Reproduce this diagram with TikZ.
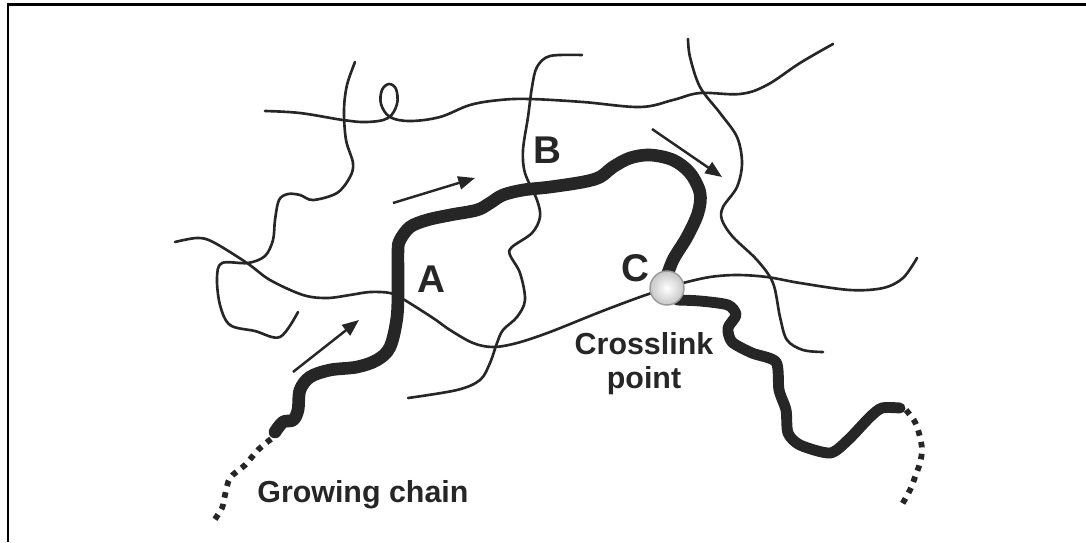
\documentclass[tikz,border=0pt]{standalone}
\usepackage{fontspec}
\setmainfont{Liberation Sans}
\usetikzlibrary{arrows.meta}

\begin{document}
\begin{tikzpicture}[
      x=0.02cm, y=-0.02cm,
      strand/.style={line width=1.5pt, line cap=round, draw=black!85},
      chain/.style={line width=7.2pt, line cap=round, line join=round, draw=black!85},
      growth/.style={line width=3.3pt, dash pattern=on 3.2pt off 3.6pt, draw=black!85},
      arrow/.style={line width=1.4pt, draw=black!85,
                    -{Triangle[length=9.5pt, width=7.5pt]}},
      xlink/.style={circle, minimum size=0.68cm, inner sep=0pt, draw=black!40,
                    line width=0.8pt, inner color=white, outer color=black!22},
      site/.style={font=\fontsize{22}{24}\selectfont\bfseries, text=black!85, inner sep=0pt},
      lbl/.style={font=\fontsize{17.3}{19.5}\selectfont\bfseries, text=black!85,
                  inner sep=0pt, align=center},
  ]
    \useasboundingbox (0,0) rectangle (1086,542);

    %% --- Frame ---
    \draw[line width=1.5pt] (8,542) -- (8,4.5) -- (1086,4.5);

    %% --- Network strands ---
    \draw[strand] plot[smooth, tension=0.6] coordinates {
      (265,111) (300,113) (343,120) (367,122) (388,118) (397,104) (396,89)
      (389,84) (382,90) (381,104) (390,117) (410,121) (440,117) (470,105)
      (500,100) (530,99) (583,102) (640,107) (673,100) (700,93) (740,94)
      (767,85) (800,63) (833,44)};
    \draw[strand] plot[smooth, tension=0.55] coordinates {
      (355,62) (347,85) (344,110) (346,140) (353,163) (350,177) (337,193)
      (313,200) (300,195) (288,194) (279,200) (275,220) (273,240) (265,256)
      (248,263) (222,263) (217,278) (220,305) (230,325) (255,331) (280,337)
      (298,312)};
    \draw[strand] plot[smooth, tension=0.55] coordinates {
      (175,242) (197,238) (213,242) (247,263) (270,280) (303,295) (327,298)
      (350,295) (370,292) (390,293) (403,299) (433,318) (450,330) (473,343)
      (493,347) (517,343) (550,332) (600,312) (640,297) (667,288) (683,283)
      (710,277) (737,275) (767,277) (800,283) (850,290) (883,288) (903,278)
      (917,258)};
    \draw[strand] plot[smooth, tension=0.55] coordinates {
      (582,55) (550,56) (537,67) (532,87) (528,117) (523,150) (525,173)
      (537,200) (540,217) (532,233) (512,247) (510,255) (520,273) (525,300)
      (517,317) (503,330) (497,343) (490,363) (480,380) (457,390) (408,398)};
    \draw[strand] plot[smooth, tension=0.55] coordinates {
      (688,39) (690,57) (700,87) (720,113) (737,137) (742,163) (737,187)
      (723,207) (722,220) (733,237) (757,260) (773,283) (780,317) (787,340)
      (803,350) (823,352)};

    %% --- Direction of growth ---
    \coordinate (g1s) at (293,372); \coordinate (g1e) at (359,320);
    \coordinate (g2s) at (393,203); \coordinate (g2e) at (475,178);
    \coordinate (g3s) at (652,129); \coordinate (g3e) at (722,177);
    \draw[arrow] (g1s) -- (g1e);
    \draw[arrow] (g2s) -- (g2e);
    \draw[arrow] (g3s) -- (g3e);

    %% --- Growing chain ---
    \draw[growth] plot[smooth] coordinates {
      (271,439) (258,450) (245,465) (230,478) (225,495) (222,508) (213,522)};
    \draw[chain] plot[smooth, tension=0.55] coordinates {
      (275,432) (283,422) (293,420) (298,410) (300,390) (310,377) (330,370)
      (357,367) (377,360) (390,347) (397,317) (398,283) (398,250) (400,240)
      (410,227) (427,220) (450,215) (477,210) (490,203) (503,195) (523,190)
      (550,187) (583,182) (600,177) (613,167) (630,158) (650,155) (673,160)
      (690,173) (700,193) (698,213) (687,237) (673,260) (665,282)};
    \draw[chain, line width=6.2pt] plot[smooth, tension=0.45] coordinates {
      (677,300) (700,301) (728,305) (736,315) (728,328) (732,342) (752,353)
      (776,362) (779,390) (786,410) (788,433) (800,445) (830,453) (848,440)
      (870,417) (882,408) (900,408)};
    \draw[growth] plot[smooth] coordinates {
      (906,410) (915,422) (920,437) (922,450) (920,463) (915,477) (910,490)
      (900,508)};

    %% --- Crosslink ---
    \node[xlink] (xl) at (667,288) {};

    %% --- Labels ---
    \node[site] (sA) at (431,279) {A};
    \node[site] (sB) at (547,150) {B};
    \node[site] (sC) at (635,268) {C};
    \node[lbl] (xlbl) at (644,364) {Crosslink\\point};
    \node[lbl, anchor=base west] (glbl) at (257,502) {Growing chain};
  \end{tikzpicture}
\end{document}
